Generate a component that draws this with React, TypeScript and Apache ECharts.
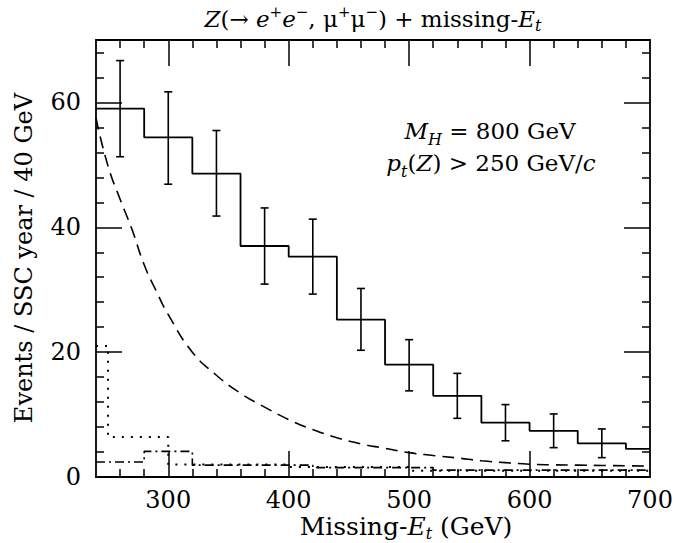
import React, { useEffect, useRef } from 'react';
import * as echarts from 'echarts';

// ---- data ----
const xMin = 240;
const xMax = 700;
const yMin = 0;
const yMax = 70;

// signal + background histogram (40 GeV bins, lower edges)
const binEdges = [240, 280, 320, 360, 400, 440, 480, 520, 560, 600, 640, 680];
const signalCounts = [59.0, 54.4, 48.6, 37.0, 35.3, 25.2, 18.0, 13.0, 8.7, 7.4, 5.4, 4.5];

// error bars (bin centres, low / high ends)
const errCenters = [260, 300, 340, 380, 420, 460, 500, 540, 580, 620, 660];
const errLow = [51.3, 46.9, 41.8, 30.9, 29.3, 20.3, 13.8, 9.4, 5.8, 4.7, 3.1];
const errHigh = [66.7, 61.7, 55.5, 43.1, 41.3, 30.2, 22.0, 16.6, 11.6, 10.1, 7.7];

// dashed curve
const curveX = [240, 250, 260, 270, 280, 290, 300, 320, 340, 360, 380, 400, 420, 440, 460, 480, 500, 520, 540, 560, 580, 600, 620, 640, 660, 680, 700];
const curveY = [57.5, 49.8, 44.5, 39.6, 34.0, 29.8, 26.0, 20.0, 16.3, 13.4, 11.2, 9.2, 7.6, 6.3, 5.3, 4.6, 3.9, 3.45, 3.05, 2.6, 2.3, 2.05, 1.95, 1.9, 1.85, 1.8, 1.75];

// dotted background histogram
const dottedEdges = [240, 250, 300, 400, 500];
const dottedCounts = [21.0, 6.4, 2.0, 1.6, 1.0];

// dash-dotted background histogram
const dashDotEdges = [240, 280, 320, 420, 520];
const dashDotCounts = [2.4, 4.1, 1.9, 1.5, 1.1];

// ticks / labels
const xMajorTicks = [300, 400, 500, 600];
const xMinorTicks = [260, 280, 320, 340, 360, 380, 420, 440, 460, 480, 520, 540, 560, 580, 620, 640, 660, 680];
const xTickLabels = [300, 400, 500, 600, 700];
const yMajorTicks = [20, 40, 60];
const yMinorTicks = [4, 8, 12, 16, 24, 28, 32, 36, 44, 48, 52, 56, 64, 68];
const yTickLabels = [0, 20, 40, 60];

const FONT = 'DejaVu Serif';

function stepData(edges: number[], counts: number[]) {
  const d = edges.map((x, i) => [x, counts[i]]);
  d.push([xMax, counts[counts.length - 1]]);
  return d;
}

export default function App() {
  const ref = useRef<HTMLDivElement>(null);

  useEffect(() => {
    document.body.style.margin = '0';
    if (!ref.current) return;
    const chart = echarts.init(ref.current, null, { renderer: 'svg' });

    const axisLineStyle = { color: '#000', width: 1.8 };
    const tickStyle = { color: '#000', width: 1.5 };

    const xBase = (position: 'top' | 'bottom', major: boolean, withLabels: boolean) => ({
      type: 'value',
      min: xMin,
      max: xMax,
      interval: 20,
      position,
      axisLine: { show: major, onZero: false, lineStyle: axisLineStyle },
      axisTick: {
        show: true,
        inside: true,
        length: major ? 26 : 8,
        customValues: major ? xMajorTicks : xMinorTicks,
        lineStyle: tickStyle,
      },
      axisLabel: withLabels
        ? { show: true, customValues: xTickLabels, margin: 11, fontSize: 24, fontFamily: FONT, color: '#000' }
        : { show: false },
      splitLine: { show: false },
    });

    const yBase = (position: 'left' | 'right', major: boolean, withLabels: boolean) => ({
      type: 'value',
      min: yMin,
      max: yMax,
      interval: 4,
      position,
      axisLine: { show: major, onZero: false, lineStyle: axisLineStyle },
      axisTick: {
        show: true,
        inside: true,
        length: major ? 26 : 8,
        customValues: major ? yMajorTicks : yMinorTicks,
        lineStyle: tickStyle,
      },
      axisLabel: withLabels
        ? { show: true, customValues: yTickLabels, margin: 15, fontSize: 24, fontFamily: FONT, color: '#000' }
        : { show: false },
      splitLine: { show: false },
    });

    const italic = { fontStyle: 'italic', fontFamily: FONT, fill: '#000' };
    const norm = { fontFamily: FONT, fill: '#000' };
    const sup = { fontFamily: FONT, fontSize: 15, fill: '#000', verticalAlign: 'top' };
    const subI = { fontFamily: FONT, fill: '#000', fontStyle: 'italic', verticalAlign: 'bottom' };

    const option: any = {
      animation: false,
      backgroundColor: '#fff',
      grid: { left: 96, right: 25, top: 40, bottom: 66, containLabel: false, outerBoundsMode: 'none' },
      xAxis: [xBase('bottom', true, true), xBase('bottom', false, false), xBase('top', true, false), xBase('top', false, false)],
      yAxis: [yBase('left', true, true), yBase('left', false, false), yBase('right', true, false), yBase('right', false, false)],
      series: [
        {
          type: 'line',
          step: 'end',
          data: stepData(binEdges, signalCounts),
          symbol: 'none',
          lineStyle: { color: '#000', width: 1.8 },
          xAxisIndex: 0,
          yAxisIndex: 0,
        },
        {
          type: 'custom',
          xAxisIndex: 0,
          yAxisIndex: 0,
          data: errCenters.map((x, i) => [x, errLow[i], errHigh[i]]),
          encode: { x: 0, y: [1, 2] },
          renderItem: (_params: any, api: any) => {
            const x = api.value(0);
            const pLo = api.coord([x, api.value(1)]);
            const pHi = api.coord([x, api.value(2)]);
            const cap = 4;
            const st = { stroke: '#000', lineWidth: 1.6 };
            return {
              type: 'group',
              children: [
                { type: 'line', shape: { x1: pLo[0], y1: pLo[1], x2: pHi[0], y2: pHi[1] }, style: st },
                { type: 'line', shape: { x1: pLo[0] - cap, y1: pLo[1], x2: pLo[0] + cap, y2: pLo[1] }, style: st },
                { type: 'line', shape: { x1: pHi[0] - cap, y1: pHi[1], x2: pHi[0] + cap, y2: pHi[1] }, style: st },
              ],
            };
          },
        },
        {
          type: 'line',
          smooth: true,
          data: curveX.map((x, i) => [x, curveY[i]]),
          symbol: 'none',
          lineStyle: { color: '#000', width: 1.6, type: [12, 7] },
          xAxisIndex: 0,
          yAxisIndex: 0,
        },
        {
          type: 'line',
          step: 'end',
          data: stepData(dottedEdges, dottedCounts),
          symbol: 'none',
          lineStyle: { color: '#000', width: 2, type: [2, 7] },
          xAxisIndex: 0,
          yAxisIndex: 0,
        },
        {
          type: 'line',
          step: 'end',
          data: stepData(dashDotEdges, dashDotCounts),
          symbol: 'none',
          lineStyle: { color: '#000', width: 1.6, type: [9, 4, 2, 4] },
          xAxisIndex: 0,
          yAxisIndex: 0,
        },
      ],
      graphic: [
        {
          type: 'text',
          x: 373,
          y: 19,
          style: {
            text: '{i|Z}{n|(→ }{i|e}{s|+}{i|e}{s|−}{n|, μ}{s|+}{n|μ}{s|−}{n|) + missing-}{i|E}{b|t}',
            align: 'center',
            verticalAlign: 'middle',
            rich: {
              i: { ...italic, fontSize: 23, lineHeight: 29 },
              n: { ...norm, fontSize: 23, lineHeight: 29 },
              s: sup,
              b: { ...subI, fontSize: 16 },
            },
          },
        },
        {
          type: 'text',
          x: 490,
          y: 131,
          style: {
            text: '{i|M}{b|H}{n| = 800 GeV}',
            align: 'center',
            verticalAlign: 'middle',
            rich: {
              i: { ...italic, fontSize: 23, lineHeight: 32 },
              n: { ...norm, fontSize: 23, lineHeight: 32 },
              b: { ...subI, fontSize: 16 },
            },
          },
        },
        {
          type: 'text',
          x: 491,
          y: 163,
          style: {
            text: '{i|p}{b|t}{n|(}{i|Z}{n|) > 250 GeV/}{i|c}',
            align: 'center',
            verticalAlign: 'middle',
            rich: {
              i: { ...italic, fontSize: 23, lineHeight: 32 },
              n: { ...norm, fontSize: 23, lineHeight: 32 },
              b: { ...subI, fontSize: 16 },
            },
          },
        },
        {
          type: 'text',
          x: 406,
          y: 526,
          style: {
            text: '{n|Missing-}{i|E}{b|t}{n| (GeV)}',
            align: 'center',
            verticalAlign: 'middle',
            rich: {
              i: { ...italic, fontSize: 25, lineHeight: 30 },
              n: { ...norm, fontSize: 25, lineHeight: 30 },
              b: { ...subI, fontSize: 16 },
            },
          },
        },
        {
          type: 'text',
          x: 24,
          y: 258,
          rotation: Math.PI / 2,
          style: {
            text: 'Events / SSC year / 40 GeV',
            align: 'center',
            verticalAlign: 'middle',
            fontFamily: FONT,
            fontSize: 24,
            fill: '#000',
          },
        },
      ],
    };

    chart.setOption(option);
    return () => chart.dispose();
  }, []);

  return <div ref={ref} style={{ width: 675, height: 543 }} />;
}
